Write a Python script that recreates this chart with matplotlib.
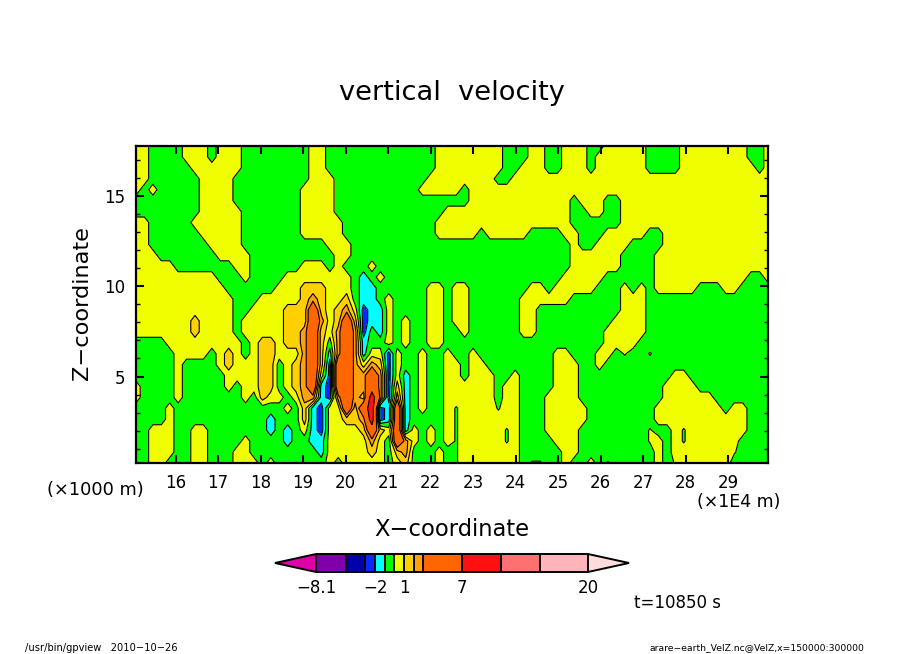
import numpy as np
import matplotlib
matplotlib.use("Agg")
import matplotlib.pyplot as plt

W, H = 904, 654

# contour levels and fill colours (first and last are the colorbar arrows)
levels = [-8.1, -5, -3, -2, -1, 0, 1, 2, 3, 7, 11, 15, 20]
colors = ['#E000A8', '#7F00AA', '#0000AA', '#0A28FF', '#00FFFF', '#00FF00', '#F0FF00',
          '#FFD000', '#FFA010', '#FF6600', '#FF1010', '#FF7070', '#FFB4BC', '#FFDDDD']
cbar_ticks = [-8.1, -2, 1, 7, 20]
cbar_labels = ['\u22128.1', '\u22122', '1', '7', '20']

x_ticks = list(range(16, 30))
z_major = [5, 10, 15]
z_minor = [1, 2, 3, 4, 6, 7, 8, 9, 11, 12, 13, 14, 16, 17]
x_range = (15.07, 29.94)
z_range = (0.22, 17.75)

# values, one letter per grid point
letter_values = {'d': -2.5, 'e': -1.5, 'g': -0.5, 'f': -0.1, 'n': 0.1, 'y': 0.5,
                 'h': 1.5, 'i': 2.5, 'o': 5.0, 'r': 9.0}

# top row first, x from 150000 to about 225000
z_left = [
    "yy gggg yyy g yyy gggggggg yy ggggggggggggg yy",
    "yy gggg yyy g yyy gggggggg yy ggggggggggggg yy",
    "yy ggggg yyyyyy gggggggg yy ggggggggggggg yy",
    "yy gggggg yyyy ggggggggg yyy ggggggggggg yyy",
    "yg y ggggg yyyy gggggggg yyyy gggggggggg yyyy",
    "gggggggg y yyy gggggggg yyyy gggggggggggggg",
    "gggggggg yyyyy ggggggg yyyy ggggggggggggg y",
    "yy ggggg yyyyyy ggggggg yyyyy ggggggggggg yy",
    "yy gggggg yyyyy ggggggg yyyyy ggggggggggg yy",
    "yy ggggggg yyyy gggggggggg yyy gggggggggggg",
    "yyy ggggggg yyyy gggggggggg yy gggggggggggg",
    "yyyyy ggggggg yy gggggg yyy g y ggg y ggggggggg",
    "yyyyyyyyyy ggg y gggg yyyyyy yy g e g y gggggggg",
    "yyyyyyyyyyy gggggg yyy hhh yyy g ee gggggg yy g",
    "yyyyyyyyyyyy ggg yyyyy h i h yy h g ee g y gggg yy g",
    "yyyyyyyyyyyy gg yyyy hhh o h y h i y d ee y gggg yy g",
    "yyyyyyy h yyyy g yyyyy hhh o i y h o h d ee y g y gg yy g",
    "yyyyyyy h yyyy g yyyyy hh i o h y i o i d g e y g y gg yy g",
    "gggg yyyyyyyy y g y hh y hh i o h g i o i e gg y g y gg yy g",
    "ggggg yyyy g y h y g y hh yyy i o h e i o i e yy d y gg y gg y",
    "ggggg y gggg y h yyy hh g y h i o h d oo i y i h d y gg y gg y",
    "ggggg y ggggg yyyy hh g y h i o y d oo i i o i d y e g y gg y",
    "y gggg y ggggg y g yy hh g y h i o e d oo i i o i d h e g y gg y",
    "y gggg y ggggg gg y g h yy g y ii e d i o i h r i d i e g y gg y",
    "gggg y ggggggggggggg y g h e d yy o h o r d e o e g y gg y",
    "gggg y ggggggggggg e ggg h e d yy hh i r d e o e gggg y",
    "gg yyy gg yy ggggggg e g e g y e d yyyy h o h y o e y g y g y",
    "gg yyy gg yy ggg g y gggg e gg ee yyyy y i y g o i y g y g y",
    "gg yyy gg yy ggg yy gggggggg e yyyyy h y g h i ggg y g",
    "gg yy ggg yy ggg yyy g y gggggg y g yyyyy g y h ggg y g",
]

# same rows, x from about 225000 to 300000
z_right = [
    "yyyyyy ggg yy gg yyy gg yyyyy gggg yyyyyyyy gg y",
    "yyyyyy ggg yy gg yyy g yyyyyy gggg yyyyyyyy gg y",
    "yyyyyy gg yyy gg yyy g yyyyyy gggg yyyyyyyyy g y",
    "yyyyy gg yyyyyyyyyy yyyyyyyyyy yyyyyyyyyy y",
    "y g yyyyyyyyyy yyyyyyyyyy yyyyyyyyyy yyyyyy",
    "gg yyyyyyyyyyyy g yyy gg yyyyyyyyyy yyyyyyyy",
    "yyyyyyyyyyyyyy gg yy gg yyyyyyyyyy yyyyyyyy",
    "yyyyyyyyyy yyyy gggggg yyyyyyyyyy yyyyyyyy",
    "yyy g yyyyy gggg yy ggg yyyyy gg yyyyyyyyyy yyy",
    "gggggggggg gggg y gg yyyy gggg yyyyyyyyyy yyy",
    "gggggggggg gggg yyyyyy gggg yyyyyyyyyy yyyy",
    "gggggggggg gggg yyyyyy gggg yyyyyyyyyy yyyy",
    "gggggggggg ggg yyyyy gggggg yyyyyyyyyy y gg y",
    "yy ggggggg yy g yyyyy ggg y g y g yyyyy ggg yy gggg",
    "yy gggggg yyyyyy gggggg yyy gggggggggg ggggg",
    "yy gggggg yy gggggggggg yyy gggggggggg ggggg",
    "yy gggggg yy ggggggggg yyyy gggggggggg ggggg",
    "g y gggggg yy gggggggg yyyyy gggggggggg ggggg",
    "gggggggggg gggggggg yyyy gggggggggg gggggg",
    "gg y ggggggggg yy ggg yy g n gg n gggggggggg gggg",
    "y g yy gggggggg yyy gg y gggggggggg gggggggggg",
    "y g yyy gg y gggg yyy gggggggggg g yy gggggggggg",
    "yyyyy g yy gggg yyy gggggggggg yyyy ggggggggg",
    "yyyyy g yy ggg yyyy gggggggggg yyyyyy ggggggg",
    "f yyyy f yy ggg yyyyy gggggggg y y yyyyyy g yy ggg",
    "f yyyyy yy ggg yyyyy gggggggg y yyyyyyyyyy ggg",
    "f yyyyy f y ggg yyyy gggggggg n gg y f yyyyyyy ggg",
    "f yyyyy f y gggg yyy gggggggg n y g y f yyyyyy gggg",
    "f yyyyyy y ggggg yy ggggggggg y g yyyyyyy n gggg",
    "f yyyyyyy g nn gg y gg y g n ggggg y g nn yyyyy ggggg",
]

rows = [(a + b).replace(" ", "") for a, b in zip(z_left, z_right)]
w = np.array([[letter_values[c] for c in row] for row in rows])
x = np.linspace(x_range[0], x_range[1], w.shape[1])
z = np.linspace(z_range[1], z_range[0], w.shape[0])

fig = plt.figure(figsize=(W / 100, H / 100), dpi=100)
ax = fig.add_axes([136 / W, 1 - 463 / H, 632 / W, 317 / H])

cf = ax.contourf(x, z, w, levels=levels, colors=colors, extend='both', antialiased=False)
ax.contour(x, z, w, levels=levels, colors='black', linewidths=0.8, linestyles='solid')

ax.set_xlim(x_range)
ax.set_ylim(z_range)
ax.set_xticks(x_ticks)
ax.set_yticks(z_major)
ax.set_yticks(z_minor, minor=True)
ax.tick_params(axis='both', which='major', direction='in', top=True, right=True,
               length=6, width=1.5, labelsize=12, pad=8)
ax.tick_params(axis='y', which='minor', direction='in', right=True, length=3, width=1)
for s in ax.spines.values():
    s.set_linewidth(1.6)


def put(px, py, txt, **kw):
    fig.text(px / W, 1 - py / H, txt, ha=kw.pop('ha', 'center'), va='center', **kw)


put(452, 93, 'vertical  velocity', fontsize=19.6)
put(452, 529, 'X\u2212coordinate', fontsize=16.3)
put(82, 303, 'Z\u2212coordinate', fontsize=16.2, rotation=90)
put(95, 490, '(\u00d71000 m)', fontsize=12.8)
put(739, 502, '(\u00d71E4 m)', fontsize=12.5)
put(678, 603, 't=10850 s', fontsize=12)
put(25, 648, '/usr/bin/gpview   2010\u221210\u221226', fontsize=7.1, ha='left')
put(864, 648, 'arare\u2212earth_VelZ.nc@VelZ,x=150000:300000', fontsize=6.7, ha='right')

# the arrows sit inside the colorbar axes, so it is wider than the bar itself
cax = fig.add_axes([275 / W, 1 - 572 / H, 354 / W, 18 / H])
cb = fig.colorbar(cf, cax=cax, orientation='horizontal', ticks=cbar_ticks,
                  drawedges=True, extendfrac=0.151, spacing='proportional')
cb.set_ticklabels(cbar_labels)
cb.ax.tick_params(length=0, labelsize=12, pad=5)
cb.outline.set_linewidth(1.4)
cb.dividers.set_linewidth(1.4)
cb.dividers.set_color('black')

fig.savefig('out.png', dpi=100)
